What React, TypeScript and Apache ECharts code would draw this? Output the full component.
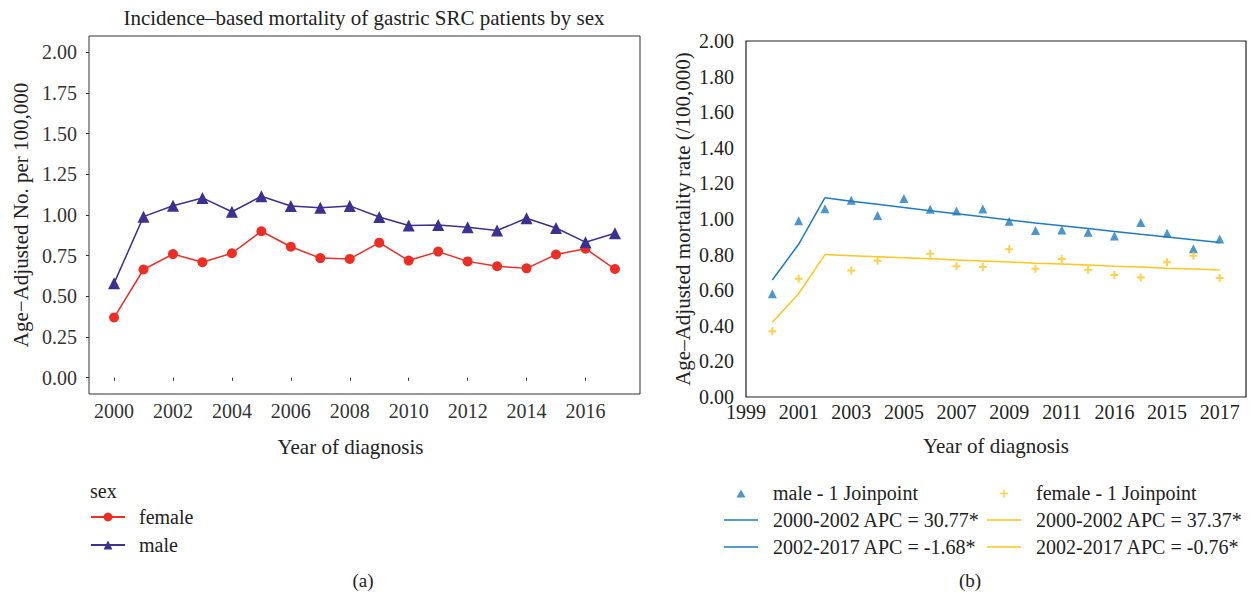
import React, { useEffect, useRef } from "react";
import * as echarts from "echarts";

const years = [2000, 2001, 2002, 2003, 2004, 2005, 2006, 2007, 2008, 2009, 2010, 2011, 2012, 2013, 2014, 2015, 2016, 2017];
const female = [0.37, 0.665, 0.76, 0.71, 0.765, 0.9, 0.805, 0.735, 0.73, 0.83, 0.72, 0.775, 0.715, 0.685, 0.672, 0.757, 0.793, 0.668];
const male = [0.58, 0.99, 1.057, 1.105, 1.02, 1.115, 1.055, 1.045, 1.056, 0.988, 0.935, 0.938, 0.925, 0.905, 0.98, 0.92, 0.833, 0.888];
// observed female points visible in panel (b) (2002 and 2005 not drawn there)
const femaleB = [0.37, 0.665, null, 0.71, 0.765, null, 0.805, 0.735, 0.73, 0.83, 0.72, 0.775, 0.715, 0.685, 0.672, 0.757, 0.793, 0.668];
const maleFit = [0.657, 0.858, 1.12, 1.1, 1.083, 1.065, 1.047, 1.03, 1.012, 0.995, 0.978, 0.962, 0.946, 0.93, 0.914, 0.899, 0.884, 0.868];
const femaleFit = [0.42, 0.58, 0.8, 0.794, 0.788, 0.782, 0.776, 0.77, 0.764, 0.758, 0.752, 0.747, 0.741, 0.735, 0.73, 0.724, 0.719, 0.713];
const joinpointYear = 2002;

const xTicksA = [2000, 2002, 2004, 2006, 2008, 2010, 2012, 2014, 2016];
const yTicksA = [0, 0.25, 0.5, 0.75, 1.0, 1.25, 1.5, 1.75, 2.0];
const xTickValuesB = [1999, 2001, 2003, 2005, 2007, 2009, 2011, 2013, 2015, 2017];
const xTickLabelsB = ["1999", "2001", "2003", "2005", "2007", "2009", "2011", "2016", "2015", "2017"];

const maleSeg1Name = "2000-2002 APC = 30.77*";
const maleSeg2Name = "2002-2017 APC = -1.68*";
const femaleSeg1Name = "2000-2002 APC = 37.37*";
const femaleSeg2Name = "2002-2017 APC = -0.76*";

const FONT = "Liberation Serif";
const RED = "#EE2E24";
const PURPLE = "#3A3190";
const BLUE = "#1F7BC1";
const YELLOW = "#FFC61E";
const PLUS = "path://M3,0H5V3H8V5H5V8H3V5H0V3H3Z";
const LINE_ICON = "path://M0,0H34V1.6H0Z";
// legend icons drawn in a 34x9 box (tiny degenerate corners keep the box size)
const TRI_ICON = "path://M0,0L0.01,0L0,0.01Z M34,9L33.99,9L34,8.99Z M17,1L21.5,9L12.5,9Z";
const PLUS_ICON = "path://M0,0L0.01,0L0,0.01Z M34,9L33.99,9L34,8.99Z M16.2,1H17.8V4.2H21V5.8H17.8V9H16.2V5.8H13V4.2H16.2Z";

function pairs(vals: (number | null)[]) {
  const out: [number, number][] = [];
  vals.forEach((v, i) => {
    if (v !== null) out.push([years[i], v]);
  });
  return out;
}
function segment(vals: number[], from: number, to: number) {
  const out: [number, number][] = [];
  vals.forEach((v, i) => {
    if (years[i] >= from && years[i] <= to) out.push([years[i], v]);
  });
  return out;
}

export default function App() {
  const ref = useRef<HTMLDivElement>(null);
  useEffect(() => {
    if (!ref.current) return;
    const chart = echarts.init(ref.current, undefined, { renderer: "svg" });
    const option: any = {
      animation: false,
      backgroundColor: "#ffffff",
      textStyle: { fontFamily: FONT },
      title: [
        {
          text: "Incidence\u2013based mortality of gastric SRC patients by sex",
          left: 364,
          top: 7,
          textAlign: "center",
          padding: 0,
          textStyle: { fontFamily: FONT, fontSize: 21, fontWeight: "normal", color: "#222" },
        },
        {
          text: "sex",
          left: 90,
          top: 481,
          padding: 0,
          textStyle: { fontFamily: FONT, fontSize: 20, fontWeight: "normal", color: "#222" },
        },
        {
          text: "(a)",
          left: 363,
          top: 571,
          textAlign: "center",
          padding: 0,
          textStyle: { fontFamily: FONT, fontSize: 19, fontWeight: "normal", color: "#222" },
        },
        {
          text: "(b)",
          left: 970,
          top: 571,
          textAlign: "center",
          padding: 0,
          textStyle: { fontFamily: FONT, fontSize: 19, fontWeight: "normal", color: "#222" },
        },
      ],
      legend: [
        {
          orient: "vertical",
          left: 90,
          top: 506,
          padding: 0,
          itemWidth: 34,
          itemHeight: 11,
          itemGap: 6,
          data: ["female", "male"],
          textStyle: { fontFamily: FONT, fontSize: 20, color: "#222", lineHeight: 22, padding: [0, 0, 0, 9] },
        },
        {
          orient: "vertical",
          left: 724,
          top: 482,
          padding: 0,
          itemWidth: 34,
          itemHeight: 9,
          itemGap: 5,
          data: [
            { name: "male - 1 Joinpoint", icon: TRI_ICON },
            { name: maleSeg1Name, icon: LINE_ICON },
            { name: maleSeg2Name, icon: LINE_ICON },
          ],
          textStyle: { fontFamily: FONT, fontSize: 20, color: "#222", lineHeight: 22, padding: [0, 0, 0, 10] },
        },
        {
          orient: "vertical",
          left: 987,
          top: 482,
          padding: 0,
          itemWidth: 34,
          itemHeight: 9,
          itemGap: 5,
          data: [
            { name: "female - 1 Joinpoint", icon: PLUS_ICON },
            { name: femaleSeg1Name, icon: LINE_ICON },
            { name: femaleSeg2Name, icon: LINE_ICON },
          ],
          textStyle: { fontFamily: FONT, fontSize: 20, color: "#222", lineHeight: 22, padding: [0, 0, 0, 10] },
        },
      ],
      grid: [
        { left: 89, top: 36, width: 551, height: 358, show: true, borderColor: "#333", borderWidth: 1, backgroundColor: "#fff" },
        { left: 746, top: 41, width: 500, height: 356, show: true, borderColor: "#231f20", borderWidth: 1.2, backgroundColor: "#fff" },
      ],
      xAxis: [
        {
          type: "value",
          gridIndex: 0,
          min: 1999.15,
          max: 2017.85,
          splitLine: { show: false },
          axisLine: { show: false },
          axisTick: { show: true, length: 3, lineStyle: { color: "#333" }, customValues: xTicksA },
          axisLabel: { customValues: xTicksA, margin: 7, fontFamily: FONT, fontSize: 20, color: "#333", formatter: (v: number) => String(v) },
          name: "Year of diagnosis",
          nameLocation: "middle",
          nameGap: 42,
          nameTextStyle: { fontFamily: FONT, fontSize: 21, color: "#222", padding: [0, 28, 0, 0] },
        },
        {
          type: "value",
          gridIndex: 1,
          min: 1999,
          max: 2018,
          splitLine: { show: false },
          axisLine: { show: false },
          axisTick: { show: false },
          axisLabel: {
            customValues: xTickValuesB,
            margin: 5,
            fontFamily: FONT,
            fontSize: 20,
            color: "#231f20",
            formatter: (v: number) => {
              const i = xTickValuesB.indexOf(v);
              return i >= 0 ? xTickLabelsB[i] : "";
            },
          },
          name: "Year of diagnosis",
          nameLocation: "middle",
          nameGap: 38,
          nameTextStyle: { fontFamily: FONT, fontSize: 21, color: "#222" },
        },
      ],
      yAxis: [
        {
          type: "value",
          gridIndex: 0,
          min: -0.1,
          max: 2.1,
          splitLine: { show: false },
          axisLine: { show: false },
          axisTick: { show: true, length: 3, lineStyle: { color: "#333" }, customValues: yTicksA },
          axisLabel: { customValues: yTicksA, margin: 12, fontFamily: FONT, fontSize: 20, color: "#333", formatter: (v: number) => v.toFixed(2) },
          name: "Age\u2212Adjusted No. per 100,000",
          nameLocation: "middle",
          nameGap: 58,
          nameTextStyle: { fontFamily: FONT, fontSize: 21, color: "#222" },
        },
        {
          type: "value",
          gridIndex: 1,
          min: 0,
          max: 2,
          interval: 0.2,
          splitLine: { show: false },
          axisLine: { show: false },
          axisTick: { show: false },
          axisLabel: { margin: 12, fontFamily: FONT, fontSize: 20, color: "#231f20", formatter: (v: number) => v.toFixed(2) },
          name: "Age\u2013Adjusted mortality rate (/100,000)",
          nameLocation: "middle",
          nameGap: 53,
          nameTextStyle: { fontFamily: FONT, fontSize: 21, color: "#222" },
        },
      ],
      series: [
        {
          name: "female",
          type: "line",
          xAxisIndex: 0,
          yAxisIndex: 0,
          data: pairs(female),
          symbol: "circle",
          symbolSize: 10,
          color: RED,
          lineStyle: { color: RED, width: 1.5 },
          itemStyle: { color: RED },
        },
        {
          name: "male",
          type: "line",
          xAxisIndex: 0,
          yAxisIndex: 0,
          data: pairs(male),
          symbol: "triangle",
          symbolSize: 12,
          color: PURPLE,
          lineStyle: { color: PURPLE, width: 1.5 },
          itemStyle: { color: PURPLE },
        },
        {
          name: maleSeg1Name,
          type: "line",
          xAxisIndex: 1,
          yAxisIndex: 1,
          data: segment(maleFit, 2000, joinpointYear),
          symbol: "none",
          color: BLUE,
          lineStyle: { color: BLUE, width: 1.5 },
          itemStyle: { color: BLUE },
        },
        {
          name: maleSeg2Name,
          type: "line",
          xAxisIndex: 1,
          yAxisIndex: 1,
          data: segment(maleFit, joinpointYear, 2017),
          symbol: "none",
          color: BLUE,
          lineStyle: { color: BLUE, width: 1.5 },
          itemStyle: { color: BLUE },
        },
        {
          name: femaleSeg1Name,
          type: "line",
          xAxisIndex: 1,
          yAxisIndex: 1,
          data: segment(femaleFit, 2000, joinpointYear),
          symbol: "none",
          color: YELLOW,
          lineStyle: { color: YELLOW, width: 1.5 },
          itemStyle: { color: YELLOW },
        },
        {
          name: femaleSeg2Name,
          type: "line",
          xAxisIndex: 1,
          yAxisIndex: 1,
          data: segment(femaleFit, joinpointYear, 2017),
          symbol: "none",
          color: YELLOW,
          lineStyle: { color: YELLOW, width: 1.5 },
          itemStyle: { color: YELLOW },
        },
        {
          name: "male - 1 Joinpoint",
          type: "scatter",
          xAxisIndex: 1,
          yAxisIndex: 1,
          data: pairs(male),
          symbol: "triangle",
          symbolSize: 9,
          color: BLUE,
          itemStyle: { color: BLUE },
        },
        {
          name: "female - 1 Joinpoint",
          type: "scatter",
          xAxisIndex: 1,
          yAxisIndex: 1,
          data: pairs(femaleB),
          symbol: PLUS,
          symbolSize: 8,
          color: YELLOW,
          itemStyle: { color: YELLOW },
        },
      ],
    };
    chart.setOption(option);
    return () => chart.dispose();
  }, []);
  return <div ref={ref} style={{ position: "fixed", left: 0, top: 0, width: 1252, height: 598 }} />;
}
